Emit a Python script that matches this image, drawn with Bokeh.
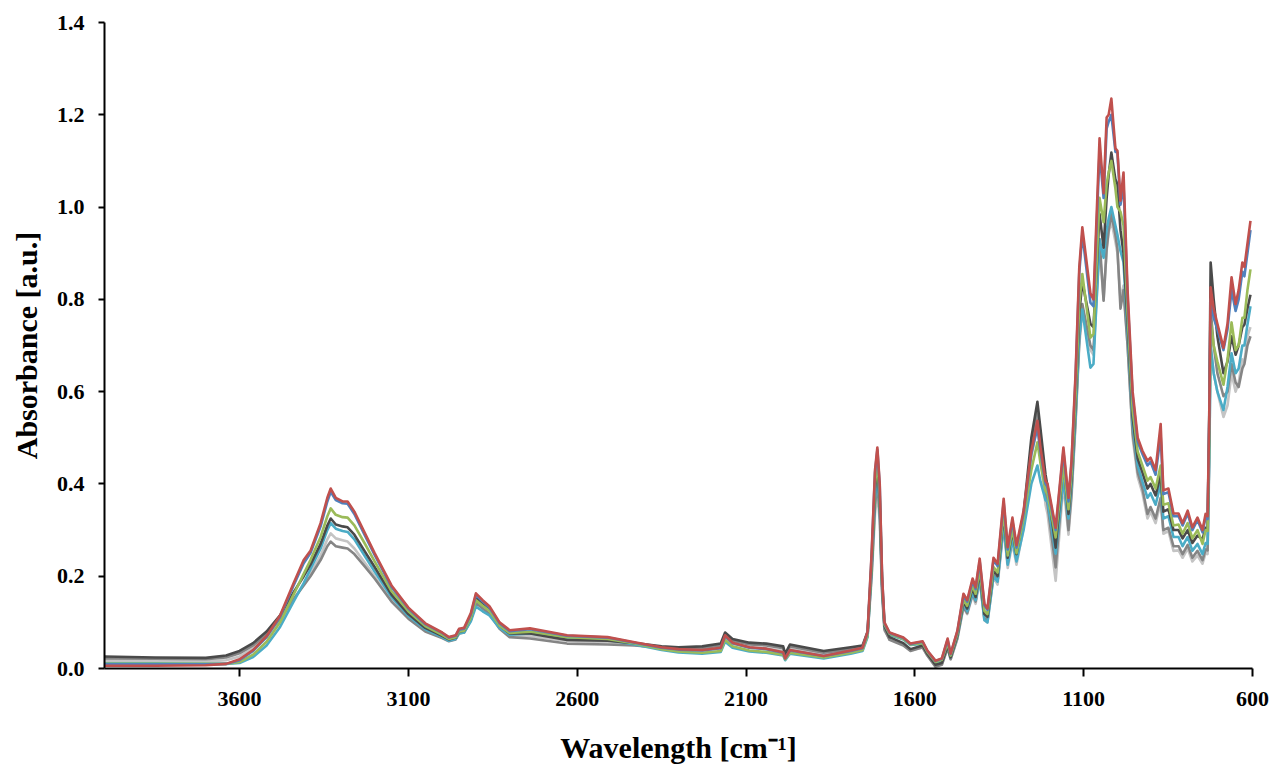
from bokeh.plotting import figure
from bokeh.models import Range1d, FixedTicker, PrintfTickFormatter, ColumnDataSource
from bokeh.embed import file_html
from bokeh.resources import INLINE

WAVENUMBER = [
    4000, 3850, 3700, 3640, 3600, 3560, 3520, 3480, 3440, 3410,
    3390, 3360, 3340, 3330, 3315, 3295, 3280, 3260, 3230, 3200,
    3150, 3100, 3050, 3000, 2980, 2960, 2950, 2935, 2915, 2900,
    2880, 2860, 2830, 2800, 2740, 2630, 2510, 2430, 2350, 2300,
    2230, 2175, 2162, 2140, 2090, 2040, 1990, 1984, 1970, 1870,
    1790, 1755, 1740, 1728, 1718, 1711, 1704, 1697, 1690, 1675,
    1634, 1613, 1577, 1563, 1539, 1520, 1503, 1494, 1474, 1456,
    1445, 1429, 1420, 1408, 1394, 1385, 1367, 1355, 1337, 1325,
    1311, 1299, 1278, 1255, 1237, 1228, 1213, 1207, 1183, 1160,
    1145, 1136, 1124, 1113, 1104, 1080, 1071, 1053, 1041, 1032,
    1026, 1018, 1006, 1000, 991, 982, 970, 955, 940, 926,
    911, 902, 887, 872, 864, 849, 834, 819, 807, 792,
    778, 763, 748, 739, 733, 728, 724, 715, 704, 686,
    674, 662, 650, 641, 630, 624, 615, 606,
]

LIGHT_GRAY = [
    .017, .016, .015, .018, .026, .044, .068, .102, .150, .182,
    .205, .245, .280, .293, .282, .278, .275, .260, .230, .200,
    .148, .110, .082, .067, .060, .064, .077, .079, .106, .144,
    .132, .120, .089, .072, .070, .060, .057, .051, .043, .040,
    .039, .044, .066, .054, .046, .044, .038, .026, .042, .030,
    .038, .043, .070, .195, .335, .380, .318, .160, .082, .064,
    .052, .040, .045, .028, .005, .009, .044, .020, .064, .132,
    .118, .158, .140, .192, .104, .100, .198, .182, .305, .218,
    .272, .225, .305, .460, .530, .460, .355, .335, .190, .400,
    .290, .370, .530, .700, .775, .690, .680, .910, .800, .905,
    .945, .970, .925, .900, .800, .830, .700, .500, .415, .380,
    .325, .340, .315, .360, .292, .298, .255, .256, .240, .260,
    .232, .245, .227, .250, .248, .440, .700, .640, .600, .545,
    .570, .640, .600, .620, .670, .665, .720, .740,
]

GRAY = [
    .022, .021, .020, .024, .033, .050, .074, .108, .150, .180,
    .200, .235, .265, .275, .265, .262, .260, .248, .222, .195,
    .145, .108, .080, .066, .059, .063, .076, .078, .105, .142,
    .130, .118, .086, .068, .065, .054, .052, .050, .045, .043,
    .044, .050, .072, .060, .052, .050, .044, .030, .048, .034,
    .042, .046, .074, .205, .355, .400, .335, .168, .085, .062,
    .050, .038, .046, .028, .004, .008, .045, .020, .066, .135,
    .120, .162, .145, .198, .110, .105, .205, .190, .318, .228,
    .282, .236, .318, .485, .560, .490, .380, .355, .219, .420,
    .300, .380, .540, .710, .790, .700, .690, .930, .797, .910,
    .950, .985, .940, .910, .780, .820, .700, .510, .425, .390,
    .335, .350, .325, .370, .300, .305, .265, .265, .248, .268,
    .240, .255, .235, .258, .256, .480, .780, .700, .640, .590,
    .600, .660, .620, .610, .650, .660, .700, .720,
]

CYAN = [
    .011, .011, .010, .010, .012, .025, .050, .090, .145, .185,
    .215, .260, .300, .315, .303, .298, .296, .280, .245, .210,
    .155, .114, .085, .068, .060, .064, .076, .078, .102, .134,
    .124, .115, .088, .073, .076, .066, .062, .052, .040, .035,
    .032, .036, .058, .045, .037, .034, .028, .018, .032, .022,
    .032, .038, .068, .215, .370, .420, .350, .175, .090, .073,
    .063, .051, .053, .034, .012, .016, .050, .024, .070, .140,
    .124, .165, .148, .195, .105, .100, .200, .188, .310, .225,
    .280, .232, .300, .400, .440, .405, .365, .362, .249, .410,
    .325, .395, .550, .720, .778, .652, .660, .930, .890, .950,
    .975, 1.000, .960, .940, .905, .880, .730, .530, .440, .405,
    .370, .380, .355, .400, .325, .330, .285, .285, .265, .285,
    .255, .270, .248, .272, .270, .460, .700, .640, .600, .560,
    .610, .683, .640, .650, .700, .700, .745, .785,
]

DARK_GRAY = [
    .026, .024, .023, .028, .038, .055, .080, .115, .165, .200,
    .225, .270, .310, .325, .312, .308, .306, .290, .255, .220,
    .160, .118, .088, .071, .063, .067, .080, .082, .112, .155,
    .141, .128, .094, .076, .076, .062, .060, .055, .048, .046,
    .048, .054, .078, .064, .056, .054, .048, .032, .052, .038,
    .046, .050, .080, .225, .390, .440, .365, .182, .092, .068,
    .055, .042, .050, .032, .008, .012, .050, .024, .072, .145,
    .130, .175, .155, .210, .118, .112, .215, .200, .335, .240,
    .298, .248, .335, .500, .578, .520, .420, .395, .262, .450,
    .335, .410, .580, .770, .838, .747, .740, .985, .912, 1.020,
    1.070, 1.118, 1.060, 1.050, .950, .900, .750, .545, .455, .425,
    .390, .400, .375, .420, .340, .345, .300, .300, .282, .300,
    .272, .288, .280, .305, .300, .560, .880, .800, .720, .640,
    .665, .720, .680, .700, .740, .745, .780, .810,
]

GREEN = [
    .010, .010, .010, .010, .014, .030, .058, .100, .160, .205,
    .235, .285, .330, .347, .333, .328, .327, .310, .272, .232,
    .168, .124, .092, .073, .064, .068, .080, .082, .110, .148,
    .136, .125, .093, .077, .080, .068, .064, .054, .042, .037,
    .034, .038, .062, .048, .039, .036, .030, .020, .034, .024,
    .034, .040, .072, .230, .400, .450, .375, .188, .095, .075,
    .064, .052, .055, .036, .014, .019, .055, .028, .075, .150,
    .136, .180, .162, .215, .125, .118, .220, .208, .340, .245,
    .302, .250, .325, .430, .490, .445, .385, .378, .284, .440,
    .345, .420, .590, .790, .855, .717, .725, 1.020, .967, 1.050,
    1.075, 1.100, 1.040, 1.000, .990, .960, .770, .560, .470, .440,
    .407, .415, .390, .440, .355, .358, .310, .312, .292, .315,
    .282, .300, .270, .300, .298, .500, .755, .700, .665, .615,
    .670, .750, .690, .700, .760, .760, .820, .865,
]

BLUE = [
    .009, .009, .009, .010, .018, .038, .068, .112, .180, .228,
    .250, .308, .362, .383, .365, .358, .357, .335, .290, .246,
    .177, .130, .096, .077, .067, .071, .084, .086, .117, .159,
    .145, .132, .098, .081, .085, .071, .067, .056, .045, .041,
    .039, .044, .070, .055, .045, .042, .034, .022, .039, .027,
    .038, .044, .078, .245, .424, .474, .395, .197, .098, .077,
    .066, .053, .058, .038, .016, .021, .062, .031, .080, .158,
    .145, .190, .172, .232, .137, .127, .235, .222, .360, .258,
    .320, .262, .336, .465, .522, .470, .400, .393, .300, .470,
    .362, .443, .630, .858, .942, .793, .785, 1.120, 1.020, 1.170,
    1.185, 1.200, 1.120, 1.118, 1.005, 1.050, .805, .590, .492, .465,
    .440, .448, .420, .505, .378, .382, .330, .330, .310, .336,
    .300, .322, .295, .328, .324, .540, .800, .760, .735, .690,
    .735, .820, .775, .800, .860, .850, .900, .950,
]

RED = [
    .006, .006, .007, .010, .020, .040, .070, .115, .185, .235,
    .255, .315, .370, .390, .370, .362, .362, .340, .295, .250,
    .180, .132, .098, .078, .068, .072, .086, .088, .120, .163,
    .148, .135, .100, .083, .087, .072, .068, .057, .046, .042,
    .040, .045, .072, .056, .046, .043, .035, .022, .040, .027,
    .039, .045, .080, .250, .430, .479, .400, .200, .100, .078,
    .067, .054, .059, .039, .017, .022, .065, .032, .082, .162,
    .148, .195, .176, .238, .140, .130, .240, .227, .368, .263,
    .327, .267, .342, .472, .537, .479, .407, .400, .305, .479,
    .370, .450, .640, .870, .956, .813, .800, 1.149, 1.030, 1.194,
    1.200, 1.235, 1.127, 1.122, 1.014, 1.075, .820, .600, .500, .472,
    .450, .457, .430, .530, .386, .390, .336, .336, .315, .342,
    .306, .327, .300, .335, .330, .550, .826, .780, .747, .695,
    .747, .848, .790, .820, .880, .870, .920, .970,
]

X_TICKS = [3600, 3100, 2600, 2100, 1600, 1100, 600]
Y_TICKS = [0.0, 0.2, 0.4, 0.6, 0.8, 1.0, 1.2, 1.4]

SERIES = [
    ("light_gray", LIGHT_GRAY, "#c4c4c4"),
    ("gray", GRAY, "#858585"),
    ("cyan", CYAN, "#4bacc6"),
    ("dark_gray", DARK_GRAY, "#4a4a4a"),
    ("green", GREEN, "#9bbb59"),
    ("blue", BLUE, "#4f81bd"),
    ("red", RED, "#c0504d"),
]

FONT = "Liberation Serif"

p = figure(width=1273, height=768, output_backend="svg", toolbar_location=None,
           x_range=Range1d(4000, 600), y_range=Range1d(0, 1.4),
           min_border_left=104, min_border_right=21, min_border_top=22,
           min_border_bottom=100)

data = {"wn": WAVENUMBER}
for name, vals, _ in SERIES:
    data[name] = vals
src = ColumnDataSource(data)
for name, _, color in SERIES:
    p.line(x="wn", y=name, source=src, line_color=color, line_width=2.6,
           line_join="round")

p.xgrid.visible = False
p.ygrid.visible = False
p.outline_line_color = None
p.background_fill_color = "white"
p.border_fill_color = "white"

for ax in (p.xaxis[0], p.yaxis[0]):
    ax.axis_line_width = 2
    ax.axis_line_color = "black"
    ax.major_tick_line_width = 2
    ax.major_tick_line_color = "black"
    ax.minor_tick_line_color = None
    ax.major_tick_in = 0
    ax.major_label_text_font = FONT
    ax.major_label_text_font_style = "bold"
    ax.major_label_text_font_size = "22px"
    ax.major_label_text_color = "black"
    ax.axis_label_text_font = FONT
    ax.axis_label_text_font_style = "bold"
    ax.axis_label_text_font_size = "30px"
    ax.axis_label_text_color = "black"

p.xaxis.ticker = FixedTicker(ticks=X_TICKS)
p.yaxis.ticker = FixedTicker(ticks=Y_TICKS)
p.yaxis.formatter = PrintfTickFormatter(format="%.1f")
p.xaxis.major_tick_out = 8
p.yaxis.major_tick_out = 6
p.xaxis.major_label_standoff = 15
p.yaxis.major_label_standoff = 14
p.xaxis.axis_label = "Wavelength [cm\u207b\u00b9]"
p.yaxis.axis_label = "Absorbance [a.u.]"
p.xaxis.axis_label_standoff = 22
p.yaxis.axis_label_standoff = 11

open("out.html", "w").write(file_html(p, INLINE))
